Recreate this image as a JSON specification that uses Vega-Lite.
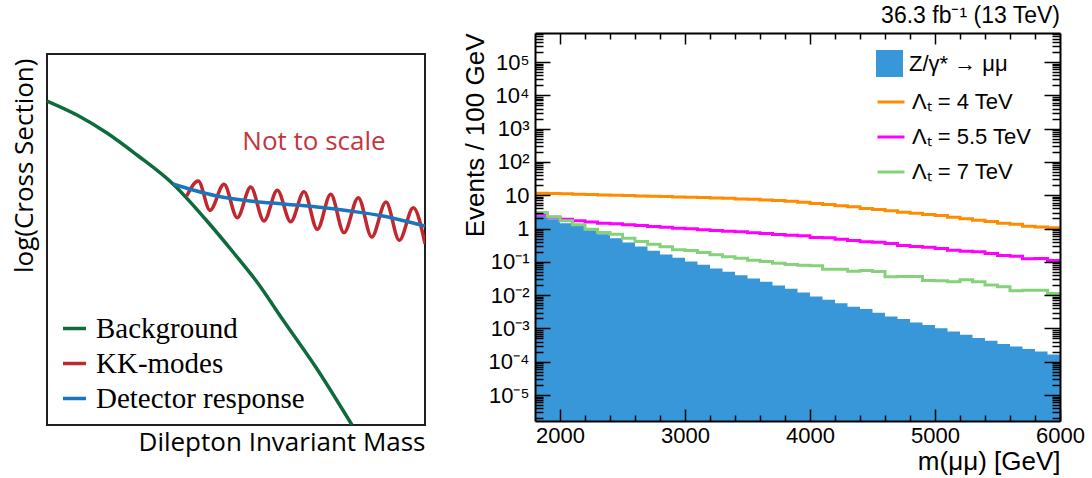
{
"$schema": "https://vega.github.io/schema/vega-lite/v6.json",
"background": "white",
"padding": {"left": 10, "top": 5, "right": 5, "bottom": 5},
"spacing": 36,
"datasets": {
"sketch": [
{"curve":"Background","x":0,"y":324},{"curve":"Background","x":30,"y":310},{"curve":"Background","x":60,"y":292},{"curve":"Background","x":90,"y":270},{"curve":"Background","x":126,"y":241},{"curve":"Background","x":160,"y":204},{"curve":"Background","x":186,"y":173},{"curve":"Background","x":210,"y":143},{"curve":"Background","x":236,"y":105},{"curve":"Background","x":270,"y":56},{"curve":"Background","x":305,"y":0},
{"curve":"KK-modes","x":139.7,"y":229},{"curve":"KK-modes","x":151.3,"y":244},{"curve":"KK-modes","x":163,"y":214.7},{"curve":"KK-modes","x":177,"y":240.7},{"curve":"KK-modes","x":190.3,"y":207.3},{"curve":"KK-modes","x":203.7,"y":238},{"curve":"KK-modes","x":217,"y":204},{"curve":"KK-modes","x":230.3,"y":234.7},{"curve":"KK-modes","x":243.7,"y":203.3},{"curve":"KK-modes","x":257,"y":233.3},{"curve":"KK-modes","x":270.3,"y":195.7},{"curve":"KK-modes","x":283.7,"y":230.7},{"curve":"KK-modes","x":297,"y":192.3},{"curve":"KK-modes","x":311.3,"y":227.3},{"curve":"KK-modes","x":324.7,"y":188},{"curve":"KK-modes","x":339,"y":223},{"curve":"KK-modes","x":352.3,"y":184.7},{"curve":"KK-modes","x":366.3,"y":217.3},{"curve":"KK-modes","x":378,"y":181.3},
{"curve":"Detector response","x":126,"y":241},{"curve":"Detector response","x":146,"y":235},{"curve":"Detector response","x":170,"y":229},{"curve":"Detector response","x":203,"y":224},{"curve":"Detector response","x":236,"y":221},{"curve":"Detector response","x":270,"y":218},{"curve":"Detector response","x":303,"y":214},{"curve":"Detector response","x":336,"y":209},{"curve":"Detector response","x":370,"y":201},{"curve":"Detector response","x":378,"y":199}
],
"dy": [
{"m":1800,"n":2.40},{"m":1900,"n":1.91},{"m":2000,"n":1.45},{"m":2100,"n":1.20},{"m":2200,"n":0.891},{"m":2300,"n":0.676},{"m":2400,"n":0.513},{"m":2500,"n":0.380},{"m":2600,"n":0.288},{"m":2700,"n":0.214},{"m":2800,"n":0.166},{"m":2900,"n":0.132},{"m":3000,"n":0.102},{"m":3100,"n":0.0813},{"m":3200,"n":0.0631},{"m":3300,"n":0.0501},{"m":3400,"n":0.0398},{"m":3500,"n":0.0316},{"m":3600,"n":0.0251},{"m":3700,"n":0.0195},{"m":3800,"n":0.0155},{"m":3900,"n":0.0120},{"m":4000,"n":0.00912},{"m":4100,"n":0.00724},{"m":4200,"n":0.00575},{"m":4300,"n":0.00447},{"m":4400,"n":0.00380},{"m":4500,"n":0.00295},{"m":4600,"n":0.00229},{"m":4700,"n":0.00191},{"m":4800,"n":0.00151},{"m":4900,"n":0.00126},{"m":5000,"n":0.00102},{"m":5100,"n":0.000813},{"m":5200,"n":0.000646},{"m":5300,"n":0.000513},{"m":5400,"n":0.000427},{"m":5500,"n":0.000339},{"m":5600,"n":0.000288},{"m":5700,"n":0.000240},{"m":5800,"n":0.000204},{"m":5900,"n":0.000166},{"m":6000,"n":0.000166}
],
"l4": [
{"lam":"Λₜ = 4 TeV","m":1800,"n":11.5},{"lam":"Λₜ = 4 TeV","m":1900,"n":11.2},{"lam":"Λₜ = 4 TeV","m":2000,"n":11.0},{"lam":"Λₜ = 4 TeV","m":2100,"n":10.7},{"lam":"Λₜ = 4 TeV","m":2200,"n":10.5},{"lam":"Λₜ = 4 TeV","m":2300,"n":10.2},{"lam":"Λₜ = 4 TeV","m":2400,"n":10.0},{"lam":"Λₜ = 4 TeV","m":2500,"n":9.77},{"lam":"Λₜ = 4 TeV","m":2600,"n":9.55},{"lam":"Λₜ = 4 TeV","m":2700,"n":9.33},{"lam":"Λₜ = 4 TeV","m":2800,"n":9.12},{"lam":"Λₜ = 4 TeV","m":2900,"n":8.91},{"lam":"Λₜ = 4 TeV","m":3000,"n":8.71},{"lam":"Λₜ = 4 TeV","m":3100,"n":8.51},{"lam":"Λₜ = 4 TeV","m":3200,"n":8.32},{"lam":"Λₜ = 4 TeV","m":3300,"n":8.13},{"lam":"Λₜ = 4 TeV","m":3400,"n":7.76},{"lam":"Λₜ = 4 TeV","m":3500,"n":7.59},{"lam":"Λₜ = 4 TeV","m":3600,"n":7.24},{"lam":"Λₜ = 4 TeV","m":3700,"n":6.92},{"lam":"Λₜ = 4 TeV","m":3800,"n":6.61},{"lam":"Λₜ = 4 TeV","m":3900,"n":6.17},{"lam":"Λₜ = 4 TeV","m":4000,"n":5.62},{"lam":"Λₜ = 4 TeV","m":4100,"n":5.25},{"lam":"Λₜ = 4 TeV","m":4200,"n":4.79},{"lam":"Λₜ = 4 TeV","m":4300,"n":4.47},{"lam":"Λₜ = 4 TeV","m":4400,"n":3.98},{"lam":"Λₜ = 4 TeV","m":4500,"n":3.72},{"lam":"Λₜ = 4 TeV","m":4600,"n":3.39},{"lam":"Λₜ = 4 TeV","m":4700,"n":3.09},{"lam":"Λₜ = 4 TeV","m":4800,"n":2.88},{"lam":"Λₜ = 4 TeV","m":4900,"n":2.63},{"lam":"Λₜ = 4 TeV","m":5000,"n":2.45},{"lam":"Λₜ = 4 TeV","m":5100,"n":2.19},{"lam":"Λₜ = 4 TeV","m":5200,"n":1.95},{"lam":"Λₜ = 4 TeV","m":5300,"n":1.78},{"lam":"Λₜ = 4 TeV","m":5400,"n":1.62},{"lam":"Λₜ = 4 TeV","m":5500,"n":1.45},{"lam":"Λₜ = 4 TeV","m":5600,"n":1.35},{"lam":"Λₜ = 4 TeV","m":5700,"n":1.17},{"lam":"Λₜ = 4 TeV","m":5800,"n":1.12},{"lam":"Λₜ = 4 TeV","m":5900,"n":1.05},{"lam":"Λₜ = 4 TeV","m":6000,"n":1.05}
],
"l55": [
{"lam":"Λₜ = 5.5 TeV","m":1800,"n":2.69},{"lam":"Λₜ = 5.5 TeV","m":1900,"n":2.19},{"lam":"Λₜ = 5.5 TeV","m":2000,"n":1.91},{"lam":"Λₜ = 5.5 TeV","m":2100,"n":1.70},{"lam":"Λₜ = 5.5 TeV","m":2200,"n":1.58},{"lam":"Λₜ = 5.5 TeV","m":2300,"n":1.45},{"lam":"Λₜ = 5.5 TeV","m":2400,"n":1.38},{"lam":"Λₜ = 5.5 TeV","m":2500,"n":1.29},{"lam":"Λₜ = 5.5 TeV","m":2600,"n":1.23},{"lam":"Λₜ = 5.5 TeV","m":2700,"n":1.15},{"lam":"Λₜ = 5.5 TeV","m":2800,"n":1.10},{"lam":"Λₜ = 5.5 TeV","m":2900,"n":1.02},{"lam":"Λₜ = 5.5 TeV","m":3000,"n":0.977},{"lam":"Λₜ = 5.5 TeV","m":3100,"n":0.912},{"lam":"Λₜ = 5.5 TeV","m":3200,"n":0.871},{"lam":"Λₜ = 5.5 TeV","m":3300,"n":0.832},{"lam":"Λₜ = 5.5 TeV","m":3400,"n":0.794},{"lam":"Λₜ = 5.5 TeV","m":3500,"n":0.741},{"lam":"Λₜ = 5.5 TeV","m":3600,"n":0.708},{"lam":"Λₜ = 5.5 TeV","m":3700,"n":0.661},{"lam":"Λₜ = 5.5 TeV","m":3800,"n":0.631},{"lam":"Λₜ = 5.5 TeV","m":3900,"n":0.603},{"lam":"Λₜ = 5.5 TeV","m":4000,"n":0.537},{"lam":"Λₜ = 5.5 TeV","m":4100,"n":0.525},{"lam":"Λₜ = 5.5 TeV","m":4200,"n":0.479},{"lam":"Λₜ = 5.5 TeV","m":4300,"n":0.437},{"lam":"Λₜ = 5.5 TeV","m":4400,"n":0.398},{"lam":"Λₜ = 5.5 TeV","m":4500,"n":0.389},{"lam":"Λₜ = 5.5 TeV","m":4600,"n":0.355},{"lam":"Λₜ = 5.5 TeV","m":4700,"n":0.309},{"lam":"Λₜ = 5.5 TeV","m":4800,"n":0.288},{"lam":"Λₜ = 5.5 TeV","m":4900,"n":0.275},{"lam":"Λₜ = 5.5 TeV","m":5000,"n":0.251},{"lam":"Λₜ = 5.5 TeV","m":5100,"n":0.224},{"lam":"Λₜ = 5.5 TeV","m":5200,"n":0.209},{"lam":"Λₜ = 5.5 TeV","m":5300,"n":0.200},{"lam":"Λₜ = 5.5 TeV","m":5400,"n":0.178},{"lam":"Λₜ = 5.5 TeV","m":5500,"n":0.155},{"lam":"Λₜ = 5.5 TeV","m":5600,"n":0.148},{"lam":"Λₜ = 5.5 TeV","m":5700,"n":0.123},{"lam":"Λₜ = 5.5 TeV","m":5800,"n":0.126},{"lam":"Λₜ = 5.5 TeV","m":5900,"n":0.110},{"lam":"Λₜ = 5.5 TeV","m":6000,"n":0.110}
],
"l7": [
{"lam":"Λₜ = 7 TeV","m":1800,"n":3.02},{"lam":"Λₜ = 7 TeV","m":1900,"n":2.24},{"lam":"Λₜ = 7 TeV","m":2000,"n":1.70},{"lam":"Λₜ = 7 TeV","m":2100,"n":1.29},{"lam":"Λₜ = 7 TeV","m":2200,"n":0.955},{"lam":"Λₜ = 7 TeV","m":2300,"n":0.759},{"lam":"Λₜ = 7 TeV","m":2400,"n":0.676},{"lam":"Λₜ = 7 TeV","m":2500,"n":0.513},{"lam":"Λₜ = 7 TeV","m":2600,"n":0.407},{"lam":"Λₜ = 7 TeV","m":2700,"n":0.339},{"lam":"Λₜ = 7 TeV","m":2800,"n":0.282},{"lam":"Λₜ = 7 TeV","m":2900,"n":0.229},{"lam":"Λₜ = 7 TeV","m":3000,"n":0.219},{"lam":"Λₜ = 7 TeV","m":3100,"n":0.191},{"lam":"Λₜ = 7 TeV","m":3200,"n":0.162},{"lam":"Λₜ = 7 TeV","m":3300,"n":0.141},{"lam":"Λₜ = 7 TeV","m":3400,"n":0.129},{"lam":"Λₜ = 7 TeV","m":3500,"n":0.112},{"lam":"Λₜ = 7 TeV","m":3600,"n":0.102},{"lam":"Λₜ = 7 TeV","m":3700,"n":0.0912},{"lam":"Λₜ = 7 TeV","m":3800,"n":0.0832},{"lam":"Λₜ = 7 TeV","m":3900,"n":0.0794},{"lam":"Λₜ = 7 TeV","m":4000,"n":0.0759},{"lam":"Λₜ = 7 TeV","m":4100,"n":0.0603},{"lam":"Λₜ = 7 TeV","m":4200,"n":0.0603},{"lam":"Λₜ = 7 TeV","m":4300,"n":0.0525},{"lam":"Λₜ = 7 TeV","m":4400,"n":0.0550},{"lam":"Λₜ = 7 TeV","m":4500,"n":0.0513},{"lam":"Λₜ = 7 TeV","m":4600,"n":0.0355},{"lam":"Λₜ = 7 TeV","m":4700,"n":0.0363},{"lam":"Λₜ = 7 TeV","m":4800,"n":0.0363},{"lam":"Λₜ = 7 TeV","m":4900,"n":0.0275},{"lam":"Λₜ = 7 TeV","m":5000,"n":0.0269},{"lam":"Λₜ = 7 TeV","m":5100,"n":0.0251},{"lam":"Λₜ = 7 TeV","m":5200,"n":0.0288},{"lam":"Λₜ = 7 TeV","m":5300,"n":0.0251},{"lam":"Λₜ = 7 TeV","m":5400,"n":0.0200},{"lam":"Λₜ = 7 TeV","m":5500,"n":0.0178},{"lam":"Λₜ = 7 TeV","m":5600,"n":0.0135},{"lam":"Λₜ = 7 TeV","m":5700,"n":0.0141},{"lam":"Λₜ = 7 TeV","m":5800,"n":0.0141},{"lam":"Λₜ = 7 TeV","m":5900,"n":0.0112},{"lam":"Λₜ = 7 TeV","m":6000,"n":0.0112}
]
},
"hconcat": [
{
 "width": 378, "height": 392,
 "view": {"stroke": null},
 "layer": [
  {"data": {"values": [{}]},
   "mark": {"type": "rect", "fill": null, "stroke": "#231f20", "strokeWidth": 2, "clip": false},
   "encoding": {"x": {"datum": 0}, "x2": {"datum": 378}, "y": {"datum": 0}, "y2": {"datum": 371}}},
  {"data": {"name": "sketch"},
   "mark": {"type": "line", "interpolate": "monotone", "strokeWidth": 3.5, "clip": true},
   "encoding": {
    "x": {"field": "x", "type": "quantitative", "scale": {"domain": [0, 378], "nice": false, "zero": false},
          "axis": {"ticks": false, "labels": false, "domain": false, "grid": false, "title": "Dilepton Invariant Mass", "titleAnchor": "end", "titleFont": "Open Sans", "titleFontSize": 26, "titleFontWeight": "normal", "titleColor": "black", "titlePadding": 4}},
    "y": {"field": "y", "type": "quantitative", "scale": {"domain": [0, 392], "nice": false, "zero": false},
          "axis": {"ticks": false, "labels": false, "domain": false, "grid": false, "title": "log(Cross Section)", "titleAnchor": "end", "titleY": 25, "titleFont": "Open Sans", "titleFontSize": 26, "titleFontWeight": "normal", "titleColor": "black", "titlePadding": 10}},
    "color": {"field": "curve", "type": "nominal",
          "scale": {"domain": ["Background", "KK-modes", "Detector response"], "range": ["#0e6b3b", "#c1272d", "#1b75bc"]},
          "legend": {"orient": "none", "legendX": 13, "legendY": 281, "title": null, "symbolType": "stroke", "symbolSize": 529, "symbolStrokeWidth": 3.5, "labelFont": "Liberation Serif", "labelFontSize": 29, "labelColor": "black", "labelOffset": 7, "rowPadding": 5, "padding": 0, "labelLimit": 400}}
   }},
  {"data": {"values": [{}]},
   "mark": {"type": "text", "font": "Open Sans", "fontSize": 26, "color": "#c3363e", "align": "center", "baseline": "middle"},
   "encoding": {"x": {"datum": 267}, "y": {"datum": 283}, "text": {"value": "Not to scale"}}}
 ]
},
{
 "width": 525, "height": 388,
 "title": {"text": "36.3 fb⁻¹ (13 TeV)", "anchor": "end", "frame": "group", "fontSize": 23, "offset": 4, "font": "Liberation Sans", "fontWeight": "normal", "color": "black"},
 "view": {"stroke": null},
 "resolve": {"axis": {"x": "independent", "y": "independent"}},
 "layer": [
  {"data": {"name": "dy"},
   "mark": {"type": "area", "interpolate": "step-after", "clip": true},
   "encoding": {
    "x": {"field": "m", "type": "quantitative", "scale": {"domain": [1800, 6000], "nice": false, "zero": false},
          "axis": {"orient": "bottom", "values": [2000, 3000, 4000, 5000, 6000], "format": "d", "tickSize": -12, "tickWidth": 1.5, "tickColor": "black", "domain": true, "domainWidth": 2, "domainColor": "black", "labelPadding": 16, "labelFont": "Liberation Sans", "labelFontSize": 22, "labelColor": "black", "labelFlush": false, "labelOverlap": false, "grid": false, "zindex": 1, "title": "m(μμ) [GeV]", "titleAnchor": "end", "titleFont": "Liberation Sans", "titleFontSize": 26, "titleFontWeight": "normal", "titleColor": "black", "titlePadding": 2}},
    "y": {"field": "n", "type": "quantitative", "scale": {"type": "log", "domain": [1.66e-6, 7.43e5], "nice": false},
          "axis": {"orient": "left", "values": [1e-5, 1e-4, 1e-3, 1e-2, 0.1, 1, 10, 100, 1000, 10000, 100000], "labelExpr": "datum.value == 1 ? '1' : datum.value == 10 ? '10' : '10' + (datum.value < 1 ? '⁻' : '') + substring('⁰¹²³⁴⁵⁶⁷⁸⁹', abs(round(log(datum.value)/LN10)), abs(round(log(datum.value)/LN10)) + 1)", "tickSize": -15, "tickWidth": 1.5, "tickColor": "black", "domain": true, "domainWidth": 2, "domainColor": "black", "labelPadding": 21, "labelFont": "Liberation Sans", "labelFontSize": 22, "labelColor": "black", "labelOverlap": false, "labelFlush": false, "grid": false, "zindex": 1, "title": "Events / 100 GeV", "titleAnchor": "end", "titleFont": "Liberation Sans", "titleFontSize": 26, "titleFontWeight": "normal", "titleColor": "black", "titlePadding": 0}},
    "y2": {"datum": 1.66e-6},
    "fill": {"datum": "Z/γ* → μμ", "type": "nominal", "scale": {"range": ["#3797d8"]},
          "legend": {"orient": "none", "legendX": 829, "legendY": 17, "title": null, "symbolType": "square", "symbolSize": 729, "symbolStrokeWidth": 0, "symbolOpacity": 1, "labelFont": "Liberation Sans", "labelFontSize": 22, "labelColor": "black", "labelOffset": 6, "padding": 0, "labelLimit": 300}}
   }},
  {"data": {"name": "l4"},
   "mark": {"type": "line", "interpolate": "step-after", "strokeWidth": 3, "clip": true},
   "encoding": {
    "x": {"field": "m", "type": "quantitative",
          "axis": {"orient": "bottom", "values": [2200, 2400, 2600, 2800, 3200, 3400, 3600, 3800, 4200, 4400, 4600, 4800, 5200, 5400, 5600, 5800], "tickSize": -6, "tickWidth": 1.5, "tickColor": "black", "domain": false, "labels": false, "grid": false, "zindex": 1, "title": null}},
    "y": {"field": "n", "type": "quantitative",
          "axis": {"orient": "left", "values": [2e-6,3e-6,4e-6,5e-6,6e-6,7e-6,8e-6,9e-6,2e-5,3e-5,4e-5,5e-5,6e-5,7e-5,8e-5,9e-5,2e-4,3e-4,4e-4,5e-4,6e-4,7e-4,8e-4,9e-4,2e-3,3e-3,4e-3,5e-3,6e-3,7e-3,8e-3,9e-3,0.02,0.03,0.04,0.05,0.06,0.07,0.08,0.09,0.2,0.3,0.4,0.5,0.6,0.7,0.8,0.9,2,3,4,5,6,7,8,9,20,30,40,50,60,70,80,90,200,300,400,500,600,700,800,900,2000,3000,4000,5000,6000,7000,8000,9000,20000,30000,40000,50000,60000,70000,80000,90000,200000,300000,400000,500000,600000,700000], "tickSize": -8, "tickWidth": 1.5, "tickColor": "black", "domain": false, "labels": false, "grid": false, "zindex": 1, "title": null}},
    "stroke": {"field": "lam", "type": "nominal",
          "scale": {"domain": ["Λₜ = 4 TeV", "Λₜ = 5.5 TeV", "Λₜ = 7 TeV"], "range": ["#ff8c00", "#ff00ff", "#86d27b"]},
          "legend": {"orient": "none", "legendX": 829, "legendY": 54, "title": null, "symbolType": "stroke", "symbolSize": 729, "symbolStrokeWidth": 3, "labelFont": "Liberation Sans", "labelFontSize": 22, "labelColor": "black", "labelOffset": 6, "rowPadding": 9, "padding": 0, "labelLimit": 300}}
   }},
  {"data": {"name": "l55"},
   "mark": {"type": "line", "interpolate": "step-after", "strokeWidth": 3, "clip": true},
   "encoding": {
    "x": {"field": "m", "type": "quantitative",
          "axis": {"orient": "top", "values": [2000, 3000, 4000, 5000], "tickSize": -11, "tickWidth": 1.5, "tickColor": "black", "domain": true, "domainWidth": 2, "domainColor": "black", "labels": false, "grid": false, "zindex": 1, "title": null}},
    "y": {"field": "n", "type": "quantitative",
          "axis": {"orient": "right", "values": [1e-5, 1e-4, 1e-3, 1e-2, 0.1, 1, 10, 100, 1000, 10000, 100000], "tickSize": -16, "tickWidth": 1.5, "tickColor": "black", "domain": true, "domainWidth": 2, "domainColor": "black", "labels": false, "grid": false, "zindex": 1, "title": null}},
    "stroke": {"field": "lam", "type": "nominal"}
   }},
  {"data": {"name": "l7"},
   "mark": {"type": "line", "interpolate": "step-after", "strokeWidth": 3, "clip": true},
   "encoding": {
    "x": {"field": "m", "type": "quantitative",
          "axis": {"orient": "top", "values": [2200, 2400, 2600, 2800, 3200, 3400, 3600, 3800, 4200, 4400, 4600, 4800, 5200, 5400, 5600, 5800], "tickSize": -6, "tickWidth": 1.5, "tickColor": "black", "domain": false, "labels": false, "grid": false, "zindex": 1, "title": null}},
    "y": {"field": "n", "type": "quantitative",
          "axis": {"orient": "right", "values": [2e-6,3e-6,4e-6,5e-6,6e-6,7e-6,8e-6,9e-6,2e-5,3e-5,4e-5,5e-5,6e-5,7e-5,8e-5,9e-5,2e-4,3e-4,4e-4,5e-4,6e-4,7e-4,8e-4,9e-4,2e-3,3e-3,4e-3,5e-3,6e-3,7e-3,8e-3,9e-3,0.02,0.03,0.04,0.05,0.06,0.07,0.08,0.09,0.2,0.3,0.4,0.5,0.6,0.7,0.8,0.9,2,3,4,5,6,7,8,9,20,30,40,50,60,70,80,90,200,300,400,500,600,700,800,900,2000,3000,4000,5000,6000,7000,8000,9000,20000,30000,40000,50000,60000,70000,80000,90000,200000,300000,400000,500000,600000,700000], "tickSize": -8, "tickWidth": 1.5, "tickColor": "black", "domain": false, "labels": false, "grid": false, "zindex": 1, "title": null}},
    "stroke": {"field": "lam", "type": "nominal"}
   }}
 ]
}
],
"config": {"font": "Liberation Sans", "axis": {"grid": false}, "title": {"fontWeight": "normal"}, "legend": {"padding": 0}}
}
